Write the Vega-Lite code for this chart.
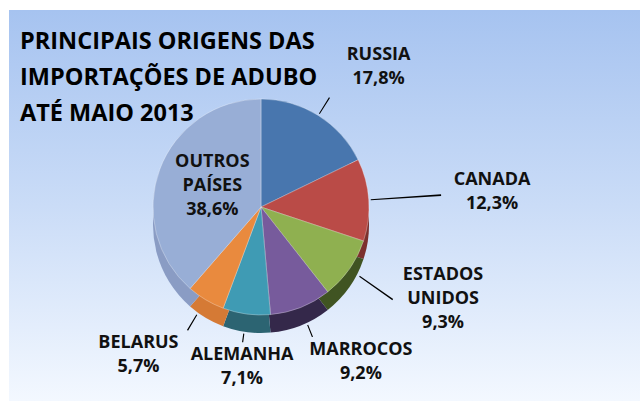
{
  "$schema": "https://vega.github.io/schema/vega-lite/v6.json",
  "width": 640,
  "height": 401,
  "autosize": {"type": "fit", "contains": "padding"},
  "padding": {"left": 9, "top": 10, "right": 0, "bottom": 0},
  "background": "#ffffff",
  "config": {
    "view": {"stroke": null},
    "text": {"font": "Open Sans", "fontWeight": "bold", "fontSize": 18, "fill": "#111111"}
  },
  "title": {
    "text": ["PRINCIPAIS ORIGENS DAS", "IMPORTAÇÕES DE ADUBO", "ATÉ MAIO 2013"],
    "font": "Open Sans",
    "fontSize": 23.5,
    "fontWeight": "bold",
    "color": "#000000",
    "anchor": "start",
    "frame": "group",
    "orient": "top",
    "baseline": "top",
    "lineHeight": 36,
    "offset": -115,
    "dx": 11
  },
  "data": {
    "values": [
      {"pais": "RUSSIA", "share": 17.8},
      {"pais": "CANADA", "share": 12.3},
      {"pais": "ESTADOS UNIDOS", "share": 9.3},
      {"pais": "MARROCOS", "share": 9.2},
      {"pais": "ALEMANHA", "share": 7.1},
      {"pais": "BELARUS", "share": 5.7},
      {"pais": "OUTROS PAÍSES", "share": 38.6}
    ]
  },
  "transform": [
    {"window": [{"op": "row_number", "as": "idx"}]},
    {"stack": "share", "groupby": [], "sort": [{"field": "idx", "order": "ascending"}], "as": ["s0", "s1"]},
    {"calculate": "(datum.s0 + datum.s1) / 2", "as": "mid"},
    {"calculate": "datum.mid - 0.07", "as": "m0"},
    {"calculate": "datum.mid + 0.07", "as": "m1"},
    {"calculate": "datum.mid * PI / 50", "as": "ang"},
    {"calculate": "18 * max(0, -cos(datum.ang))", "as": "drop"},
    {"calculate": "185 * 122 / sqrt(pow(122 * sin(datum.ang), 2) + pow(185 * cos(datum.ang), 2)) + datum.drop", "as": "rho"},
    {"calculate": "datum.rho - 4", "as": "rOut"},
    {"calculate": "110 + datum.drop", "as": "rIn"},
    {"calculate": "indexof(datum.pais, ' ') >= 0 ? 3 : 2", "as": "nl"},
    {"calculate": "replace(datum.pais, ' ', '\\n') + '\\n' + replace(format(datum.share, '.1f'), '.', ',') + '%'", "as": "rotulo"}
  ],
  "layer": [
    {
      "data": {"values": [{}]},
      "mark": {
        "type": "rect",
        "fill": {
          "gradient": "linear",
          "x1": 0, "y1": 0, "x2": 0, "y2": 1,
          "stops": [
            {"offset": 0, "color": "#A6C3F0"},
            {"offset": 0.5, "color": "#CADCF7"},
            {"offset": 1, "color": "#F3F8FF"}
          ]
        }
      },
      "encoding": {}
    },
    {
      "mark": {"type": "arc", "x": 252, "y": 215, "radius": 108},
      "encoding": {
        "theta": {"field": "s0", "type": "quantitative", "stack": null, "scale": {"domain": [0, 100]}},
        "theta2": {"field": "s1"},
        "fill": {
          "field": "pais", "type": "nominal", "legend": null,
          "scale": {
            "domain": ["RUSSIA", "CANADA", "ESTADOS UNIDOS", "MARROCOS", "ALEMANHA", "BELARUS", "OUTROS PAÍSES"],
            "range": ["#2E4C74", "#7C302D", "#405422", "#34284A", "#2C6472", "#D57A35", "#8A9CC4"]
          }
        }
      }
    },
    {
      "mark": {"type": "arc", "x": 252, "y": 197, "radius": 108, "stroke": "#ffffff", "strokeWidth": 0.6, "strokeOpacity": 0.5},
      "encoding": {
        "theta": {"field": "s0", "type": "quantitative", "stack": null, "scale": {"domain": [0, 100]}},
        "theta2": {"field": "s1"},
        "color": {
          "field": "pais", "type": "nominal", "legend": null,
          "scale": {
            "domain": ["RUSSIA", "CANADA", "ESTADOS UNIDOS", "MARROCOS", "ALEMANHA", "BELARUS", "OUTROS PAÍSES"],
            "range": ["#4876AE", "#BA4B47", "#8FB050", "#775B9C", "#3F9BB4", "#E98A3E", "#98AED6"]
          }
        }
      }
    },
    {
      "transform": [{"filter": "datum.pais != 'OUTROS PAÍSES'"}],
      "mark": {"type": "arc", "x": 252, "y": 197, "fill": "#000000"},
      "encoding": {
        "theta": {"field": "m0", "type": "quantitative", "stack": null, "scale": {"domain": [0, 100]}},
        "theta2": {"field": "m1"},
        "radius": {"field": "rOut", "type": "quantitative", "scale": null},
        "radius2": {"field": "rIn"}
      }
    },
    {
      "transform": [{"filter": "datum.pais != 'OUTROS PAÍSES'"}],
      "mark": {
        "type": "text", "x": 252, "y": 197, "lineBreak": "\n", "lineHeight": 24, "align": "center", "baseline": "top",
        "dx": {"expr": "abs(sin(datum.ang)) < 0.25 ? 0 : (sin(datum.ang) > 0 ? 47 : -47)"},
        "dy": {"expr": "cos(datum.ang) > 0.6 ? -24 * datum.nl : (cos(datum.ang) < -0.8 ? 0 : -12 * datum.nl)"}
      },
      "encoding": {
        "theta": {"field": "mid", "type": "quantitative", "stack": null, "scale": {"domain": [0, 100]}},
        "radius": {"field": "rho", "type": "quantitative", "scale": null},
        "text": {"field": "rotulo", "type": "nominal"}
      }
    },
    {
      "transform": [{"filter": "datum.pais == 'OUTROS PAÍSES'"}],
      "mark": {"type": "text", "x": 252, "y": 197, "radius": 52, "dy": -36, "lineBreak": "\n", "lineHeight": 24, "align": "center", "baseline": "top"},
      "encoding": {
        "theta": {"field": "mid", "type": "quantitative", "stack": null, "scale": {"domain": [0, 100]}},
        "text": {"field": "rotulo", "type": "nominal"}
      }
    }
  ]
}
